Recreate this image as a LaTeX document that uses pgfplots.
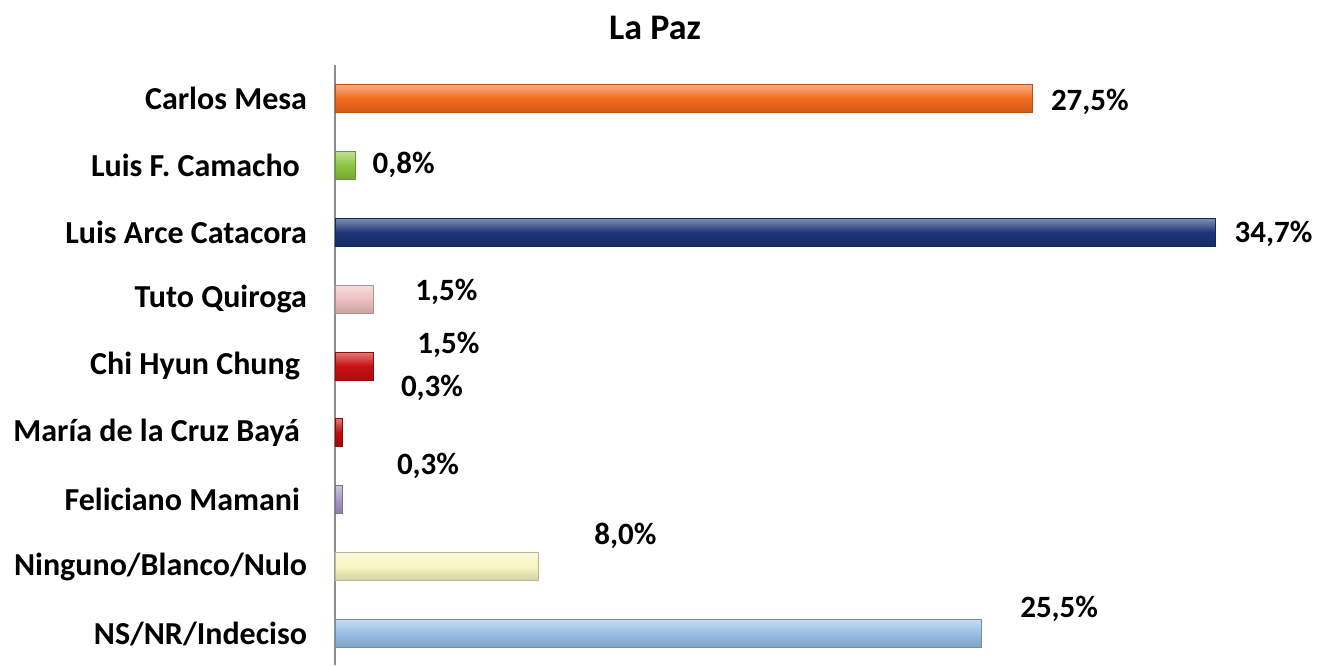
\documentclass[border=0pt]{standalone}
\usepackage{pgfplots}
\pgfplotsset{compat=1.18}
\usepackage{fontspec}
\setmainfont{Carlito}

\definecolor{cOrange}{HTML}{F26B1D}
\definecolor{cGreen}{HTML}{8CC63F}
\definecolor{cNavy}{HTML}{1C3577}
\definecolor{cPink}{HTML}{EEC0C0}
\definecolor{cRed}{HTML}{C81010}
\definecolor{cDRed}{HTML}{BE0A0A}
\definecolor{cLav}{HTML}{A597C4}
\definecolor{cYel}{HTML}{F8F5C2}
\definecolor{cBlue}{HTML}{98BEE6}

\newcommand{\lbl}{\bfseries\fontsize{15.5}{18}\selectfont}

\pgfplotsset{
  mybar/.style 2 args={xbar, bar width=14pt, bar shift=0pt,
    draw=#1!75!black, line width=0.4pt,
    top color=#1!55!white, bottom color=#1!85!black, middle color=#1,
    nodes near coords={#2},
    every node near coord/.append style={anchor=west, inner sep=0pt, font=\lbl, text=black}},
}

\begin{document}
\begin{tikzpicture}
\begin{axis}[
  scale only axis, width=482pt, height=300pt,
  xmin=0, xmax=38, ymin=-0.47, ymax=8.5,
  axis x line=none, axis y line=left,
  axis line style={-, draw=gray!90, line width=0.8pt},
  ytick={0,...,8}, major tick length=0pt,
  yticklabels={NS/NR/Indeciso, Ninguno/Blanco/Nulo, Feliciano Mamani\hspace*{3.5pt}, Mar\'ia de la Cruz Bay\'a\hspace*{3.5pt}, Chi Hyun Chung\hspace*{3.5pt}, Tuto Quiroga, Luis Arce Catacora, Luis F. Camacho\hspace*{3.5pt}, Carlos Mesa},
  yticklabel style={font=\bfseries\fontsize{16}{18}\selectfont, anchor=east, xshift=-10.5pt},
  clip=false,
]
\addplot[mybar={cOrange}{27,5\%}, every node near coord/.append style={xshift=9pt, yshift=-1.5pt}] coordinates {(27.5,8)};
\addplot[mybar={cGreen}{0,8\%}, every node near coord/.append style={xshift=8.5pt}] coordinates {(0.8,7)};
\addplot[mybar={cNavy}{34,7\%}, every node near coord/.append style={xshift=9.5pt, yshift=-1pt}] coordinates {(34.7,6)};
\addplot[mybar={cPink}{1,5\%}, every node near coord/.append style={xshift=21pt, yshift=3.5pt}] coordinates {(1.5,5)};
\addplot[mybar={cRed}{1,5\%}, every node near coord/.append style={xshift=22pt, yshift=10.5pt}] coordinates {(1.5,4)};
\addplot[mybar={cDRed}{0,3\%}, every node near coord/.append style={xshift=29pt, yshift=22.5pt}] coordinates {(0.3,3)};
\addplot[mybar={cLav}{0,3\%}, every node near coord/.append style={xshift=27pt, yshift=17pt}] coordinates {(0.3,2)};
\addplot[mybar={cYel}{8,0\%}, every node near coord/.append style={xshift=28pt, yshift=15.5pt}] coordinates {(8.0,1)};
\addplot[mybar={cBlue}{25,5\%}, every node near coord/.append style={xshift=19pt, yshift=12.5pt}] coordinates {(25.5,0)};
\end{axis}
\node[font=\bfseries\fontsize{18}{21}\selectfont] at ([xshift=160pt, yshift=318.5pt]current axis.south west) {La Paz};
\pgfresetboundingbox
\path ([xshift=-167.5pt]current axis.south west) rectangle ++(659pt,332.5pt);
\end{tikzpicture}
\end{document}
